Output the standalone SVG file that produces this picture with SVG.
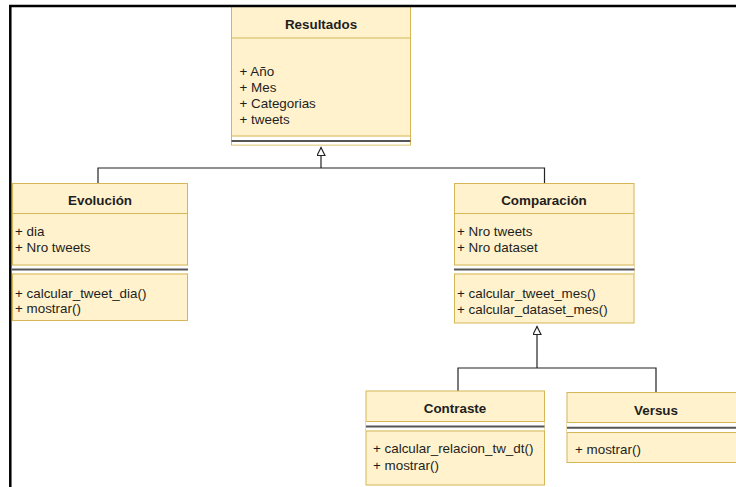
<svg xmlns="http://www.w3.org/2000/svg" width="736" height="487" viewBox="0 0 736 487">
<style>
.box{fill:#fff2cc;stroke:#d6b656;stroke-width:1}
.div{stroke:#d6b656;stroke-width:1.2;fill:none}
.sepbg{fill:#ffffff;stroke:none}
.sep{stroke:#555555;stroke-width:2;fill:none}
.t{font-family:"Liberation Sans",Arial,sans-serif;font-size:13.4px;fill:#1e1e1e}
.title{font-weight:bold;text-anchor:middle}
.edge{stroke:#222222;stroke-width:1.2;fill:none}
.frame{stroke:#000000;stroke-width:2.5;fill:none}
</style>
<defs>
<marker id="tri" markerWidth="10" markerHeight="10" refX="8.5" refY="4.5" orient="auto" markerUnits="userSpaceOnUse">
<path d="M0.5,0.5 L8.5,4.5 L0.5,8.5 Z" fill="#ffffff" stroke="#222222" stroke-width="1.2"/>
</marker>
</defs>
<rect x="0" y="0" width="736" height="487" fill="#ffffff"/>

<g id="connectors">
<polyline class="edge" points="98,183.5 98,168 544.5,168 544.5,183.5"/>
<line class="edge" x1="321" y1="168" x2="321" y2="147.5" marker-end="url(#tri)"/>
<polyline class="edge" points="458,391 458,368 656,368 656,392.5"/>
<line class="edge" x1="537" y1="368" x2="537" y2="326.5" marker-end="url(#tri)"/>
</g>

<g id="resultados">
<rect class="box" x="231.5" y="6" width="179" height="139"/>
<line class="div" x1="231.5" y1="38" x2="410.5" y2="38"/>
<text class="t title" x="321" y="28.5">Resultados</text>
<text class="t" x="239.5" y="75.5">+ Año</text>
<text class="t" x="239.5" y="91.8">+ Mes</text>
<text class="t" x="239.5" y="108.1">+ Categorias</text>
<text class="t" x="239.5" y="124.4">+ tweets</text>
<rect class="sepbg" x="232" y="136.5" width="178" height="8"/>
<line class="div" x1="231.5" y1="136" x2="410.5" y2="136"/>
<line class="sep" x1="231.5" y1="141" x2="410.5" y2="141"/>
</g>

<g id="evolucion">
<rect class="box" x="12.5" y="183.5" width="175" height="137"/>
<line class="div" x1="12.5" y1="213.5" x2="187.5" y2="213.5"/>
<text class="t title" x="100" y="204.5">Evolución</text>
<text class="t" x="15" y="235.5">+ dia</text>
<text class="t" x="15" y="251.5">+ Nro tweets</text>
<rect class="sepbg" x="12" y="265.5" width="176" height="8"/>
<line class="div" x1="12.5" y1="265" x2="187.5" y2="265"/>
<line class="sep" x1="12" y1="269.5" x2="188" y2="269.5"/>
<line class="div" x1="12.5" y1="274" x2="187.5" y2="274"/>
<text class="t" x="15" y="297.5">+ calcular_tweet_dia()</text>
<text class="t" x="15" y="313">+ mostrar()</text>
</g>

<g id="comparacion">
<rect class="box" x="454.5" y="183.5" width="179.5" height="139.5"/>
<line class="div" x1="454.5" y1="213.5" x2="634" y2="213.5"/>
<text class="t title" x="544" y="204.5">Comparación</text>
<text class="t" x="457" y="235.5">+ Nro tweets</text>
<text class="t" x="457" y="251.5">+ Nro dataset</text>
<rect class="sepbg" x="454" y="265.5" width="180" height="8"/>
<line class="div" x1="454.5" y1="265" x2="634" y2="265"/>
<line class="sep" x1="454" y1="269.5" x2="634.5" y2="269.5"/>
<line class="div" x1="454.5" y1="274" x2="634" y2="274"/>
<text class="t" x="457" y="297.5">+ calcular_tweet_mes()</text>
<text class="t" x="457" y="313.5">+ calcular_dataset_mes()</text>
</g>

<g id="contraste">
<rect class="box" x="366" y="391" width="178.5" height="94"/>
<line class="div" x1="366" y1="421.5" x2="544.5" y2="421.5"/>
<text class="t title" x="455" y="412.5">Contraste</text>
<rect class="sepbg" x="366" y="422" width="178.5" height="8.5"/>
<line class="sep" x1="366" y1="426.5" x2="544.5" y2="426.5"/>
<line class="div" x1="366" y1="431" x2="544.5" y2="431"/>
<text class="t" x="373" y="452.5">+ calcular_relacion_tw_dt()</text>
<text class="t" x="373" y="470">+ mostrar()</text>
</g>

<g id="versus">
<rect class="box" x="567" y="392.5" width="178" height="70"/>
<line class="div" x1="567" y1="422.5" x2="745" y2="422.5"/>
<text class="t title" x="656" y="414.5">Versus</text>
<rect class="sepbg" x="567" y="423" width="178" height="9"/>
<line class="sep" x1="567" y1="427.7" x2="745" y2="427.7"/>
<line class="div" x1="567" y1="432.5" x2="745" y2="432.5"/>
<text class="t" x="575" y="453.5">+ mostrar()</text>
</g>

<g id="frame">
<polyline class="frame" points="10.3,487 10.3,6 736,6"/>
</g>
</svg>
